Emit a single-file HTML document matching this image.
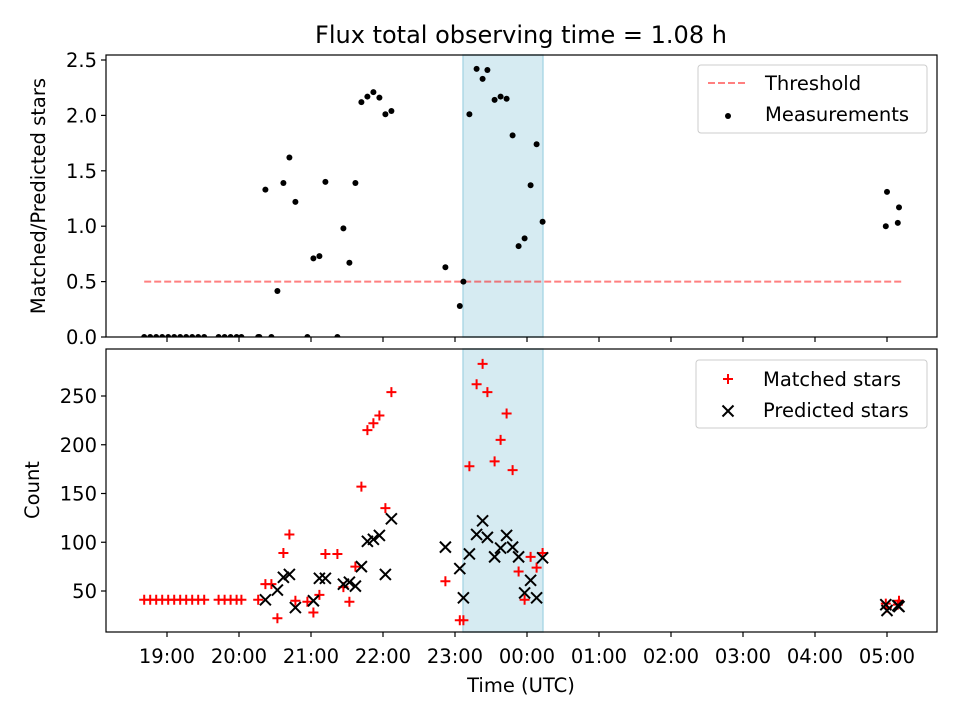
<!DOCTYPE html>
<html><head><meta charset="utf-8"><style>
body{margin:0;background:#fff}
text{font-family:"DejaVu Sans","Liberation Sans",sans-serif;fill:#000}
</style></head><body>
<svg id="chart" width="960" height="720" xmlns="http://www.w3.org/2000/svg">
<rect width="960" height="720" fill="#fff"/>
<text x="521" y="43" font-size="24" text-anchor="middle">Flux total observing time = 1.08 h</text>
<g id="topPanel"></g>
<g id="botPanel"></g>
<text transform="translate(45,196) rotate(-90)" font-size="19.5" text-anchor="middle">Matched/Predicted stars</text>
<text transform="translate(39,490) rotate(-90)" font-size="19.5" text-anchor="middle">Count</text>
<text x="521" y="692" font-size="19.5" text-anchor="middle">Time (UTC)</text>
</svg>
<script>
// minutes relative to 19:00 UTC
const ratioTimes=[-19,-14,-9,-4,1,6,11,16,21,26,31,43,48,53,58,62,76,77,82,87,92,97,102,107,117,122,127,132,142,147,152,157,162,167,172,177,182,187,232,244,247,252,258,263,267,273,278,283,288,293,298,303,308,313,599,600,610,609];
const ratioValues=[0,0,0,0,0,0,0,0,0,0,0,0,0,0,0,0,0,0,1.33,0,0.415,1.39,1.62,1.22,0,0.71,0.73,1.40,0,0.98,0.67,1.39,2.12,2.17,2.21,2.16,2.01,2.04,0.63,0.28,0.50,2.01,2.42,2.33,2.41,2.14,2.17,2.15,1.82,0.82,0.89,1.37,1.74,1.04,1.00,1.31,1.17,1.03];
const matchedTimes=[-19,-14,-9,-4,1,6,11,16,21,26,31,43,48,53,58,62,76,82,87,92,97,102,107,117,122,127,132,142,147,152,157,162,167,172,177,182,187,232,244,247,252,258,263,267,273,278,283,288,293,298,303,308,313,599,600,610,609];
const matchedValues=[41,41,41,41,41,41,41,41,41,41,41,41,41,41,41,41,41,57,57,22,89,108,40,39,28,46,88,88,54,39,75,157,215,222,230,135,254,60,20,20,178,262,283,254,183,205,232,174,70,41,85,74,89,37,33,40,36];
const predictedTimes=[82,92,97,102,107,122,127,132,147,152,157,162,167,172,177,182,187,232,244,247,252,258,263,267,273,278,283,288,293,298,303,308,313,599,600,610,609];
const predictedValues=[41,51,64,67,33,40,63,63,57,59,55,75,101,103,107,67,124,95,73,43,88,108,122,105,85,94,107,95,85,48,61,43,84,36,30,34,35];
const xTickLabels=["19:00","20:00","21:00","22:00","23:00","00:00","01:00","02:00","03:00","04:00","05:00"];
const ratioTicks=[0,0.5,1.0,1.5,2.0,2.5];
const countTicks=[50,100,150,200,250];
const threshold=0.5;
const thresholdRange=[-19,612];
const observeSpan=[246.7,313.3];

const NS="http://www.w3.org/2000/svg";
const X=m=>167+1.2*m;
const YR=v=>337-110.8*v;
const YC=c=>591-(c-50)*0.975;
function mk(tag,attrs,parent){const e=document.createElementNS(NS,tag);for(const k in attrs)e.setAttribute(k,attrs[k]);parent.appendChild(e);return e;}
const svgEl=document.getElementById('chart');
const defs=mk('defs',{},svgEl);
const c1=mk('clipPath',{id:'c1'},defs);mk('rect',{x:106,y:55,width:831,height:282},c1);
const c2=mk('clipPath',{id:'c2'},defs);mk('rect',{x:106,y:349,width:831,height:283},c2);

function panel(g,y0,y1,clip){
  const sp=mk('rect',{x:X(observeSpan[0]),y:y0,width:X(observeSpan[1])-X(observeSpan[0]),height:y1-y0,fill:'#add8e6','fill-opacity':0.5,stroke:'#add8e6','stroke-width':1.5},g);
  
  
  const pts=mk('g',{'clip-path':'url(#'+clip+')'},g);
  xTickLabels.forEach((l,i)=>{
    const x=X(i*60);
    const t=mk('line',{x1:x,x2:x,y1:y1,y2:y1+5,stroke:'#000','stroke-width':1.2},g);
    
    
  });
  return pts;
}
const topG=document.getElementById('topPanel');
const botG=document.getElementById('botPanel');
const p1=panel(topG,55,337,'c1');
const p2=panel(botG,349,632,'c2');
xTickLabels.forEach((l,i)=>{
  const t=mk('text',{x:X(i*60),y:663,'font-size':19.5,'text-anchor':'middle'},botG);
  t.textContent=l;
  
  
});
ratioTicks.forEach(v=>{
  const y=YR(v);
  mk('line',{x1:101,x2:106,y1:y,y2:y,stroke:'#000','stroke-width':1.2},topG);
  const t=mk('text',{x:97,y:y+7,'font-size':19.5,'text-anchor':'end'},topG);
  t.textContent=v.toFixed(1);
  
  
});
countTicks.forEach(v=>{
  const y=YC(v);
  mk('line',{x1:101,x2:106,y1:y,y2:y,stroke:'#000','stroke-width':1.2},botG);
  const t=mk('text',{x:97,y:y+7,'font-size':19.5,'text-anchor':'end'},botG);
  t.textContent=v;
  
  
});
const th=mk('line',{x1:X(thresholdRange[0]),x2:X(thresholdRange[1]),y1:YR(threshold),y2:YR(threshold),stroke:'#ff0000','stroke-opacity':0.5,'stroke-width':2,'stroke-dasharray':'7,3'},p1);


ratioTimes.forEach((m,i)=>{
  const d=mk('circle',{cx:X(m),cy:YR(ratioValues[i]),r:3,fill:'#000'},p1);
  
  
});
matchedTimes.forEach((m,i)=>{
  const x=X(m),y=YC(matchedValues[i]);
  const p=mk('path',{d:`M${x-5},${y}H${x+5}M${x},${y-5}V${y+5}`,stroke:'#ff0000','stroke-width':2,fill:'none'},p2);
  
  
});
predictedTimes.forEach((m,i)=>{
  const x=X(m),y=YC(predictedValues[i]);
  const p=mk('path',{d:`M${x-5.5},${y-5.5}L${x+5.5},${y+5.5}M${x-5.5},${y+5.5}L${x+5.5},${y-5.5}`,stroke:'#000','stroke-width':2,fill:'none'},p2);
  
  
});
const f1=mk('rect',{x:106,y:55,width:831,height:282,fill:'none',stroke:'#000','stroke-width':1.2},topG);


const f2=mk('rect',{x:106,y:349,width:831,height:283,fill:'none',stroke:'#000','stroke-width':1.2},botG);


const l1=mk('g',{},topG);


mk('rect',{x:698,y:65,width:229,height:68,rx:3,fill:'#fff','fill-opacity':0.8,stroke:'#ccc'},l1);
mk('line',{x1:708,x2:748,y1:83,y2:83,stroke:'#ff0000','stroke-opacity':0.5,'stroke-width':2,'stroke-dasharray':'7,3'},l1);
let tx=mk('text',{x:765,y:90,'font-size':19.5},l1);tx.textContent='Threshold';
mk('circle',{cx:728,cy:116,r:3,fill:'#000'},l1);
tx=mk('text',{x:765,y:121,'font-size':19.5},l1);tx.textContent='Measurements';
const l2=mk('g',{},botG);


mk('rect',{x:696,y:360,width:231,height:68,rx:3,fill:'#fff','fill-opacity':0.8,stroke:'#ccc'},l2);
mk('path',{d:'M723,379H733M728,374V384',stroke:'#ff0000','stroke-width':2},l2);
tx=mk('text',{x:763,y:386,'font-size':19.5},l2);tx.textContent='Matched stars';
mk('path',{d:'M722.5,405.5L733.5,416.5M722.5,416.5L733.5,405.5',stroke:'#000','stroke-width':2},l2);
tx=mk('text',{x:763,y:417,'font-size':19.5},l2);tx.textContent='Predicted stars';
</script>
</body></html>
